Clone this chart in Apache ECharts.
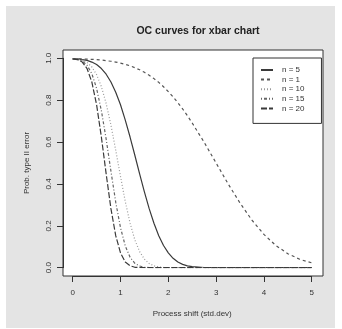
<!DOCTYPE html>
<html>
<head>
<meta charset="utf-8">
<script src="https://cdn.jsdelivr.net/npm/echarts@6/dist/echarts.min.js"></script>
<style>
  html, body { margin: 0; padding: 0; background: #fff; }
  #chart { position: absolute; left: 6px; top: 6px; width: 329px; height: 322px; }
</style>
</head>
<body>
<div id="chart"></div>
<script>
// process shift in std.dev units
const shift = [0, 0.1, 0.2, 0.3, 0.4, 0.5, 0.6, 0.7, 0.8, 0.9, 1, 1.1, 1.2, 1.3, 1.4, 1.5, 1.6, 1.7, 1.8, 1.9,
  2, 2.1, 2.2, 2.3, 2.4, 2.5, 2.75, 3, 3.25, 3.5, 3.75, 4, 4.25, 4.5, 4.75, 5];

// probability of type II error
const n5 = [0.997, 0.997, 0.994, 0.990, 0.982, 0.970, 0.951, 0.924, 0.887, 0.838, 0.778, 0.705, 0.624, 0.537, 0.448,
  0.362, 0.282, 0.212, 0.153, 0.106, 0.071, 0.045, 0.027, 0.016, 0.009, 0.005, 0.001, 0, 0, 0, 0, 0, 0, 0, 0, 0];
const n1 = [0.997, 0.997, 0.997, 0.996, 0.995, 0.994, 0.992, 0.988, 0.986, 0.982, 0.977, 0.971, 0.964, 0.955, 0.945,
  0.933, 0.919, 0.903, 0.885, 0.864, 0.841, 0.816, 0.788, 0.758, 0.726, 0.691, 0.599, 0.500, 0.401, 0.309, 0.227,
  0.159, 0.106, 0.067, 0.040, 0.023];
const n10 = [0.997, 0.996, 0.991, 0.980, 0.959, 0.922, 0.865, 0.784, 0.681, 0.561, 0.436, 0.316, 0.213, 0.133, 0.077,
  0.041, 0.020, 0.009, 0.004, 0.001, 0, 0, 0, 0, 0, 0, 0, 0, 0, 0, 0, 0, 0, 0, 0, 0];
const n15 = [0.997, 0.995, 0.987, 0.967, 0.927, 0.856, 0.750, 0.614, 0.461, 0.313, 0.191, 0.104, 0.050, 0.021, 0.008,
  0.002, 0.001, 0, 0, 0, 0, 0, 0, 0, 0, 0, 0, 0, 0, 0, 0, 0, 0, 0, 0, 0];
const n20 = [0.997, 0.994, 0.982, 0.951, 0.887, 0.778, 0.624, 0.448, 0.282, 0.153, 0.071, 0.027, 0.009, 0.002, 0.001,
  0, 0, 0, 0, 0, 0, 0, 0, 0, 0, 0, 0, 0, 0, 0, 0, 0, 0, 0, 0, 0];

const xTicks = [0, 1, 2, 3, 4, 5];
const yTicks = [0, 0.2, 0.4, 0.6, 0.8, 1.0];

const FONT = 'Liberation Sans';

function pairs(ys) {
  return shift.map((x, i) => [x, ys[i]]);
}

const chart = echarts.init(document.getElementById('chart'));

chart.setOption({
  animation: false,
  backgroundColor: '#e4e4e4',
  title: {
    text: 'OC curves for xbar chart',
    left: 187,
    top: 15,
    textAlign: 'center',
    textStyle: { fontFamily: FONT, fontSize: 10.5, fontWeight: 'bold', color: '#222' }
  },
  legend: {
    left: 247,
    top: 52,
    orient: 'vertical',
    padding: [8, 17, 11, 7],
    itemWidth: 12,
    itemHeight: 8,
    itemGap: 1.6,
    borderColor: '#333',
    borderWidth: 1,
    backgroundColor: '#fff',
    itemStyle: { opacity: 0 },
    textStyle: { fontFamily: FONT, fontSize: 8, color: '#333', padding: [0, 0, 0, 4] },
    data: ['n = 5', 'n = 1', 'n = 10', 'n = 15', 'n = 20']
  },
  grid: [
    // outer plot frame
    { left: 57, top: 44, width: 260, height: 226, show: true, backgroundColor: '#fff', borderColor: '#333', borderWidth: 1 },
    // data region (0..5, 0..1)
    { left: 66.7, top: 52.3, width: 239, height: 209.4 }
  ],
  xAxis: [
    { gridIndex: 0, type: 'value', show: false, min: 0, max: 1 },
    {
      gridIndex: 1,
      type: 'value',
      min: 0,
      max: 5,
      interval: 1,
      offset: 8.3,
      name: 'Process shift (std.dev)',
      nameLocation: 'middle',
      nameGap: 34,
      nameTextStyle: { fontFamily: FONT, fontSize: 8, color: '#333' },
      axisLine: { onZero: false, lineStyle: { color: '#333', width: 1 } },
      axisTick: { length: 6, lineStyle: { color: '#333' } },
      axisLabel: {
        fontFamily: FONT, fontSize: 8, color: '#333', margin: 13,
        formatter: v => xTicks.includes(v) ? String(v) : ''
      },
      splitLine: { show: false }
    }
  ],
  yAxis: [
    { gridIndex: 0, type: 'value', show: false, min: 0, max: 1 },
    {
      gridIndex: 1,
      type: 'value',
      min: 0,
      max: 1,
      interval: 0.2,
      offset: 9.7,
      name: 'Prob. type II error',
      nameLocation: 'middle',
      nameGap: 32,
      nameTextStyle: { fontFamily: FONT, fontSize: 8, color: '#333' },
      axisLine: { onZero: false, lineStyle: { color: '#333', width: 1 } },
      axisTick: { length: 6, lineStyle: { color: '#333' } },
      axisLabel: {
        fontFamily: FONT, fontSize: 8, color: '#333', margin: 10, rotate: 90,
        formatter: v => yTicks.some(t => Math.abs(t - v) < 1e-9) ? v.toFixed(1) : ''
      },
      splitLine: { show: false }
    }
  ],
  series: [
    { name: 'n = 5', data: pairs(n5), lineStyle: { color: '#3a3a3a', width: 1.2, type: 'solid' } },
    { name: 'n = 1', data: pairs(n1), lineStyle: { color: '#555', width: 1.2, type: [3, 3] } },
    { name: 'n = 10', data: pairs(n10), lineStyle: { color: '#9a9a9a', width: 1.2, type: [1, 2] } },
    { name: 'n = 15', data: pairs(n15), lineStyle: { color: '#666', width: 1.2, type: [1, 2, 3, 2] } },
    { name: 'n = 20', data: pairs(n20), lineStyle: { color: '#3a3a3a', width: 1.2, type: [6, 2] } }
  ].map(s => Object.assign({
    type: 'line',
    xAxisIndex: 1,
    yAxisIndex: 1,
    showSymbol: false,
    symbol: 'none',
    itemStyle: { color: s.lineStyle.color }
  }, s))
});
</script>
</body>
</html>
